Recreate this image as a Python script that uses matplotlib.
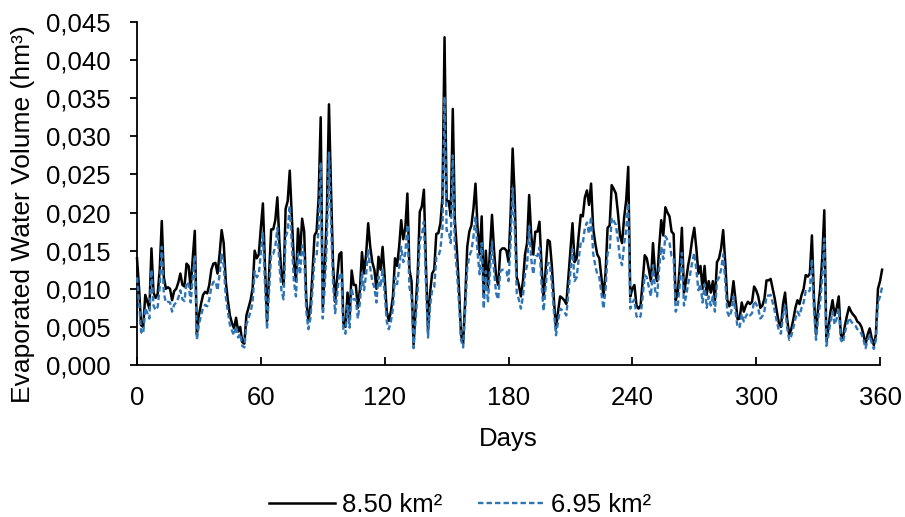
import numpy as np
import matplotlib
matplotlib.use('Agg')
import matplotlib.pyplot as plt
from matplotlib.ticker import FuncFormatter, MultipleLocator

plt.rcParams['font.family'] = ['Liberation Sans', 'DejaVu Sans']

# daily evaporated volume in dam³ (1 dam³ = 0.001 hm³), days 0..361
vol_850 = [
    14.0, 10.0, 5.2, 5.0, 9.2, 8.3, 7.4, 15.3, 9.5, 8.8,
    9.3, 12.5, 18.9, 11.5, 10.0, 10.2, 10.0, 8.5, 9.7, 10.0,
    10.8, 12.0, 10.5, 10.3, 13.3, 13.0, 10.0, 14.0, 17.6, 4.0,
    6.5, 8.0, 9.2, 9.6, 9.4, 10.5, 12.5, 13.3, 13.4, 12.0,
    14.5, 17.7, 16.0, 11.0, 8.5, 6.5, 5.5, 4.8, 6.2, 4.4,
    5.0, 3.0, 2.8, 6.5, 7.5, 8.5, 10.0, 15.0, 14.0, 14.5,
    18.0, 21.2, 13.0, 5.7, 12.0, 17.8, 17.8, 19.0, 22.0, 16.0,
    11.8, 10.5, 20.5, 21.5, 25.5, 19.5, 13.5, 11.0, 17.9, 14.5,
    19.2, 17.5, 8.7, 5.8, 7.5, 12.0, 17.0, 17.5, 22.0, 32.5,
    7.4, 13.0, 20.0, 34.2, 23.0, 13.0, 8.3, 11.5, 14.5, 14.8,
    5.5, 5.0, 9.5, 6.0, 12.4, 10.5, 10.5, 7.5, 10.0, 14.8,
    12.0, 14.5, 18.6, 15.5, 13.5, 12.5, 10.0, 14.2, 12.5, 15.5,
    11.5, 7.0, 5.8, 7.0, 9.0, 14.0, 13.0, 15.5, 19.0, 16.5,
    18.0, 22.5, 12.5, 11.0, 2.7, 7.5, 12.0, 20.1, 20.8, 23.0,
    13.0, 4.4, 9.5, 12.0, 12.5, 17.2, 17.3, 18.6, 22.0, 43.0,
    21.5, 21.5, 19.5, 33.6, 19.0, 15.0, 10.0, 4.0, 2.8, 8.5,
    15.5, 17.5, 18.3, 20.5, 23.8, 18.0, 14.5, 19.5, 9.0, 15.0,
    10.0, 15.0, 19.7, 15.0, 11.5, 10.5, 15.0, 15.3, 15.3, 15.0,
    13.5, 19.7, 28.4, 22.0, 11.5, 10.5, 9.0, 11.0, 14.5, 16.0,
    22.3, 17.0, 14.5, 17.5, 17.5, 18.8, 13.0, 8.7, 12.5, 16.4,
    16.2, 13.0, 8.5, 4.8, 7.0, 9.0, 8.8, 8.5, 8.0, 11.5,
    15.0, 18.6, 13.5, 14.0, 17.0, 19.7, 19.5, 22.0, 22.9, 21.0,
    23.8, 18.0, 16.0, 14.5, 14.0, 11.5, 9.0, 12.0, 18.0, 18.3,
    23.6, 23.1, 22.5, 20.0, 17.0, 16.0, 19.3, 21.6, 26.0, 9.0,
    10.0, 10.5, 7.8, 7.4, 7.8, 11.0, 14.4, 14.0, 12.5, 11.0,
    16.0, 12.0, 11.0, 15.5, 19.0, 17.0, 20.7, 20.0, 19.5, 17.5,
    17.2, 8.5, 9.5, 13.0, 18.0, 9.5, 11.0, 13.0, 14.5, 16.5,
    18.0, 15.3, 12.0, 13.0, 10.0, 13.0, 9.2, 11.0, 9.5, 11.0,
    8.5, 13.5, 14.0, 15.3, 17.7, 13.5, 8.5, 7.7, 8.7, 11.0,
    8.5, 6.0, 6.1, 8.2, 7.0, 7.8, 8.3, 8.0, 8.3, 10.3,
    9.8, 9.0, 7.5, 7.8, 8.7, 11.1, 11.1, 11.3, 10.0, 8.7,
    7.0, 5.5, 5.0, 8.0, 9.5, 6.0, 4.0, 4.7, 6.0, 7.5,
    8.5, 8.0, 9.2, 10.0, 11.8, 11.6, 12.0, 17.0, 8.7, 4.0,
    7.5, 10.0, 14.0, 20.3, 3.1, 4.8, 7.0, 8.5, 6.5, 7.5,
    9.0, 4.0, 3.5, 5.2, 6.5, 7.6, 7.0, 6.6, 6.3, 5.7,
    5.5, 5.0, 4.0, 2.7, 4.0, 4.8, 3.5, 2.6, 4.0, 10.0,
    11.0, 12.5,
]

vol_695 = [
    11.5, 8.2, 4.3, 4.1, 7.5, 6.8, 6.1, 12.5, 7.8, 7.2,
    7.6, 10.2, 15.5, 9.4, 8.2, 8.3, 8.2, 7.0, 7.9, 8.2,
    8.8, 9.8, 8.6, 8.4, 10.9, 10.6, 8.2, 11.5, 14.4, 3.3,
    5.3, 6.5, 7.5, 7.9, 7.7, 8.6, 10.2, 10.9, 11.0, 9.8,
    11.9, 14.5, 13.1, 9.0, 7.0, 5.3, 4.5, 3.9, 5.1, 3.6,
    4.1, 2.5, 2.3, 5.3, 6.1, 7.0, 8.2, 12.3, 11.5, 11.9,
    14.7, 17.3, 10.6, 4.7, 9.8, 14.6, 14.6, 15.5, 18.0, 13.1,
    9.7, 8.6, 16.8, 17.6, 20.9, 16.0, 11.0, 9.0, 14.6, 11.9,
    15.7, 14.3, 7.1, 4.7, 6.1, 9.8, 13.9, 14.3, 18.0, 26.6,
    6.1, 10.6, 16.4, 28.0, 18.8, 10.6, 6.8, 9.4, 11.9, 12.1,
    4.5, 4.1, 7.8, 4.9, 10.1, 8.6, 8.6, 6.1, 8.2, 12.1,
    9.8, 11.9, 15.2, 12.7, 11.0, 10.2, 8.2, 11.6, 10.2, 12.7,
    9.4, 5.7, 4.7, 5.7, 7.4, 11.5, 10.6, 12.7, 15.5, 13.5,
    14.7, 18.4, 10.2, 9.0, 2.2, 6.1, 9.8, 16.4, 17.0, 18.8,
    10.6, 3.6, 7.8, 9.8, 10.2, 14.1, 14.2, 15.2, 18.0, 35.2,
    17.6, 17.6, 16.0, 27.5, 15.5, 12.3, 8.2, 3.3, 2.3, 7.0,
    12.7, 14.3, 15.0, 16.8, 19.5, 14.7, 11.9, 16.0, 7.4, 12.3,
    8.2, 12.3, 16.1, 12.3, 9.4, 8.6, 12.3, 12.5, 12.5, 12.3,
    11.0, 16.1, 23.2, 18.0, 9.4, 8.6, 7.4, 9.0, 11.9, 13.1,
    18.2, 13.9, 11.9, 14.3, 14.3, 15.4, 10.6, 7.1, 10.2, 13.4,
    13.3, 10.6, 7.0, 3.9, 5.7, 7.4, 7.2, 7.0, 6.5, 9.4,
    12.3, 15.2, 11.0, 11.5, 13.9, 16.1, 16.0, 18.0, 18.7, 17.2,
    19.5, 14.7, 13.1, 11.9, 11.5, 9.4, 7.4, 9.8, 14.7, 15.0,
    19.3, 18.9, 18.4, 16.4, 13.9, 13.1, 15.8, 17.7, 21.3, 7.4,
    8.2, 8.6, 6.4, 6.1, 6.4, 9.0, 11.8, 11.5, 10.2, 9.0,
    13.1, 9.8, 9.0, 12.7, 15.5, 13.9, 16.9, 16.4, 16.0, 14.3,
    14.1, 7.0, 7.8, 10.6, 14.7, 7.8, 9.0, 10.6, 11.9, 13.5,
    14.7, 12.5, 9.8, 10.6, 8.2, 10.6, 7.5, 9.0, 7.8, 9.0,
    7.0, 11.0, 11.5, 12.5, 14.5, 11.0, 7.0, 6.3, 7.1, 9.0,
    7.0, 4.9, 5.0, 6.7, 5.7, 6.4, 6.8, 6.5, 6.8, 8.4,
    8.0, 7.4, 6.1, 6.4, 7.1, 9.1, 9.1, 9.2, 8.2, 7.1,
    5.7, 4.5, 4.1, 6.5, 7.8, 4.9, 3.3, 3.8, 4.9, 6.1,
    7.0, 6.5, 7.5, 8.2, 9.7, 9.5, 9.8, 13.9, 7.1, 3.3,
    6.1, 8.2, 11.5, 16.6, 2.5, 3.9, 5.7, 7.0, 5.3, 6.1,
    7.4, 3.3, 2.9, 4.3, 5.3, 6.2, 5.7, 5.4, 5.2, 4.7,
    4.5, 4.1, 3.3, 2.2, 3.3, 3.9, 2.9, 2.1, 3.3, 8.2,
    9.0, 10.2,
]

days = np.arange(len(vol_850))
# dam³ -> hm³
v850 = np.array(vol_850) / 1000
v695 = np.array(vol_695) / 1000

fs = 18.5

fig = plt.figure(figsize=(9.05, 5.17), dpi=100)
ax = fig.add_axes([0.1514, 0.294, 0.821, 0.6634])

ax.plot(days, v850, color='black', lw=1.8, label='8.50 km²', clip_on=False, zorder=3)
ax.plot(days, v695, color='#2E75B6', lw=1.7, ls=(0, (2.3, 1.3)), label='6.95 km²',
        clip_on=False, zorder=4)

ax.set_xlim(0, 360)
ax.set_ylim(0, 0.045)
ax.xaxis.set_major_locator(MultipleLocator(60))
ax.yaxis.set_major_locator(MultipleLocator(0.005))
ax.yaxis.set_major_formatter(FuncFormatter(lambda v, p: f'{v:.3f}'.replace('.', ',')))

for s in ('top', 'right'):
    ax.spines[s].set_visible(False)
for s in ('left', 'bottom'):
    ax.spines[s].set_linewidth(1.3)
    ax.spines[s].set_color('black')

ax.tick_params(axis='x', direction='in', length=6, width=1.3, pad=15, labelsize=fs)
ax.tick_params(axis='y', direction='out', length=5, width=1.3, pad=14, labelsize=fs)

ax.set_xlabel('Days', fontsize=fs, labelpad=12)
ax.set_ylabel('Evaporated Water Volume (hm³)', fontsize=19)
ax.yaxis.set_label_coords(-0.137, 0.44)

fig.legend(loc='center', bbox_to_anchor=(460 / 905, 1 - 505 / 517), ncol=2,
           frameon=False, fontsize=fs, handlelength=2.6, handletextpad=0.25,
           columnspacing=1.4)

fig.savefig('out.png', dpi=100)
